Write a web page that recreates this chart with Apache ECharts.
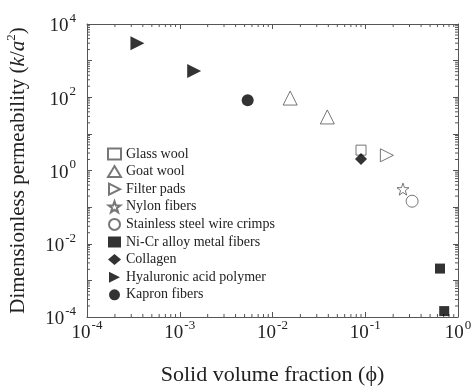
<!DOCTYPE html>
<html>
<head>
<meta charset="utf-8">
<script src="https://cdn.jsdelivr.net/npm/echarts@6/dist/echarts.min.js"></script>
<style>
html,body{margin:0;padding:0;background:#fff;}
#chart{width:473px;height:389px;}
</style>
</head>
<body>
<div id="chart"></div>
<script>
"use strict";

// series names (legend order)
var names = ['Glass wool', 'Goat wool', 'Filter pads', 'Nylon fibers', 'Stainless steel wire crimps',
    'Ni-Cr alloy metal fibers', 'Collagen', 'Hyaluronic acid polymer', 'Kapron fibers'];

// [solid volume fraction, k/a^2]
var glassWool = [[0.09, 3.6]];
var goatWool = [[0.0155, 95], [0.039, 29]];
var filterPads = [[0.171, 2.6]];
var nylonFibers = [[0.255, 0.31]];
var steelCrimps = [[0.32, 0.145]];
var niCrFibers = [[0.64, 0.0021], [0.71, 0.000145]];
var collagen = [[0.09, 2.05]];
var hyaluronic = [[0.00035, 3000], [0.00143, 520]];
var kapron = [[0.0054, 83]];

// log minor tick mantissas
var mantissas = [2, 3, 4, 5, 6, 7, 8, 9];
var xDecades = [-4, -3, -2, -1];
var yDecades = [-4, -3, -2, -1, 0, 1, 2, 3];

var FONT = 'Liberation Serif';
var AXIS_COLOR = '#555';
var TEXT_COLOR = '#222';

var xMinor = [];
xDecades.forEach(function (d) {
    mantissas.forEach(function (m) { xMinor.push([m * Math.pow(10, d), 1e-4]); });
});
var yMinor = [];
yDecades.forEach(function (d) {
    mantissas.forEach(function (m) { yMinor.push([1e-4, m * Math.pow(10, d)]); });
});

function powLabel(v, everyOther) {
    var e = Math.round(Math.log10(v));
    if (everyOther && e % 2 !== 0) return '';
    return '{b|10}{s|' + e + '}';
}

var labelRich = {
    b: { fontFamily: FONT, fontSize: 19, color: TEXT_COLOR, lineHeight: 24, verticalAlign: 'bottom' },
    s: { fontFamily: FONT, fontSize: 13, color: TEXT_COLOR, lineHeight: 24, verticalAlign: 'top', padding: [0, 0, 0, 1] }
};

// symbols
var starPath = 'path://M0,-10L2.35,-3.24L9.51,-3.09L3.8,1.24L5.88,8.09L0,4L-5.88,8.09L-3.8,1.24L-9.51,-3.09L-2.35,-3.24Z';
var rightTri = 'path://M0,0L10,5L0,10Z';

function openSym(name, data, symbol, size) {
    return {
        name: name, type: 'scatter', data: data, symbol: symbol, symbolSize: size,
        itemStyle: { color: '#fff', borderColor: '#555', borderWidth: 1 }
    };
}
function fillSym(name, data, symbol, size) {
    return {
        name: name, type: 'scatter', data: data, symbol: symbol, symbolSize: size,
        itemStyle: { color: '#000', borderWidth: 0 }
    };
}

function baseAxis(pos, min, max, withLabel, everyOther) {
    return {
        type: 'log', logBase: 10, position: pos, min: min, max: max, interval: 1,
        axisLine: { show: true, onZero: false, lineStyle: { color: AXIS_COLOR, width: 1 } },
        axisTick: { show: true, inside: true, length: 5, lineStyle: { color: AXIS_COLOR } },
        axisLabel: withLabel ? {
            show: true, margin: pos === 'left' ? 11 : 2,
            formatter: function (v) { return powLabel(v, everyOther); },
            rich: labelRich
        } : { show: false },
        splitLine: { show: false }
    };
}

var xBottom = baseAxis('bottom', 1e-4, 1, true, false);
xBottom.name = 'Solid volume fraction (\u03d5)';
xBottom.nameLocation = 'middle';
xBottom.nameGap = 47;
xBottom.nameTextStyle = { fontFamily: FONT, fontSize: 22, color: TEXT_COLOR };

var yLeft = baseAxis('left', 1e-4, 1e4, true, true);
yLeft.name = '{n|Dimensionless permeability (}{i|k}{n|/}{i|a}{sup|2}{n|)}';
yLeft.nameLocation = 'middle';
yLeft.nameGap = 58;
yLeft.nameTextStyle = {
    rich: {
        n: { fontFamily: FONT, fontSize: 21, color: TEXT_COLOR, lineHeight: 24, verticalAlign: 'bottom' },
        i: { fontFamily: FONT, fontSize: 21, fontStyle: 'italic', color: TEXT_COLOR, lineHeight: 24, verticalAlign: 'bottom' },
        sup: { fontFamily: FONT, fontSize: 13, color: TEXT_COLOR, lineHeight: 24, verticalAlign: 'top' }
    }
};

function minorTicks(data, isX) {
    return {
        type: 'custom', silent: true, clip: false, data: data,
        xAxisIndex: 0, yAxisIndex: 0,
        renderItem: function (params, api) {
            var a, b;
            if (isX) {
                a = api.coord([api.value(0), 1e-4]);
                b = api.coord([api.value(0), 1e4]);
                return { type: 'group', children: [
                    { type: 'line', shape: { x1: a[0], y1: a[1], x2: a[0], y2: a[1] - 3 }, style: { stroke: AXIS_COLOR, lineWidth: 1 } },
                    { type: 'line', shape: { x1: b[0], y1: b[1], x2: b[0], y2: b[1] + 3 }, style: { stroke: AXIS_COLOR, lineWidth: 1 } }
                ] };
            }
            a = api.coord([1e-4, api.value(1)]);
            b = api.coord([1, api.value(1)]);
            return { type: 'group', children: [
                { type: 'line', shape: { x1: a[0], y1: a[1], x2: a[0] + 3, y2: a[1] }, style: { stroke: AXIS_COLOR, lineWidth: 1 } },
                { type: 'line', shape: { x1: b[0], y1: b[1], x2: b[0] - 3, y2: b[1] }, style: { stroke: AXIS_COLOR, lineWidth: 1 } }
            ] };
        }
    };
}

var myChart = echarts.init(document.getElementById('chart'), null, { renderer: 'canvas' });
var option = {
    backgroundColor: '#fff',
    animation: false,
    grid: { left: 87, top: 24, right: 15, bottom: 72, containLabel: false, outerBoundsMode: 'none' },
    legend: {
        orient: 'vertical', left: 102, top: 142,
        itemWidth: 13, itemHeight: 11, itemGap: 3.6, itemTextGap: 8,
        textStyle: { fontFamily: FONT, fontSize: 14, lineHeight: 13.5, color: TEXT_COLOR },
        data: names
    },
    xAxis: [xBottom, baseAxis('top', 1e-4, 1, false)],
    yAxis: [yLeft, baseAxis('right', 1e-4, 1e4, false)],
    series: [
        openSym(names[0], glassWool, 'rect', 10),
        openSym(names[1], goatWool, 'triangle', 14),
        openSym(names[2], filterPads, rightTri, 13),
        openSym(names[3], nylonFibers, starPath, 12),
        openSym(names[4], steelCrimps, 'circle', 12),
        fillSym(names[5], niCrFibers, 'rect', 10),
        fillSym(names[6], collagen, 'diamond', 12),
        fillSym(names[7], hyaluronic, rightTri, 14),
        fillSym(names[8], kapron, 'circle', 12),
        minorTicks(xMinor, true),
        minorTicks(yMinor, false)
    ]
};
myChart.setOption(option, true);
</script>
</body>
</html>
